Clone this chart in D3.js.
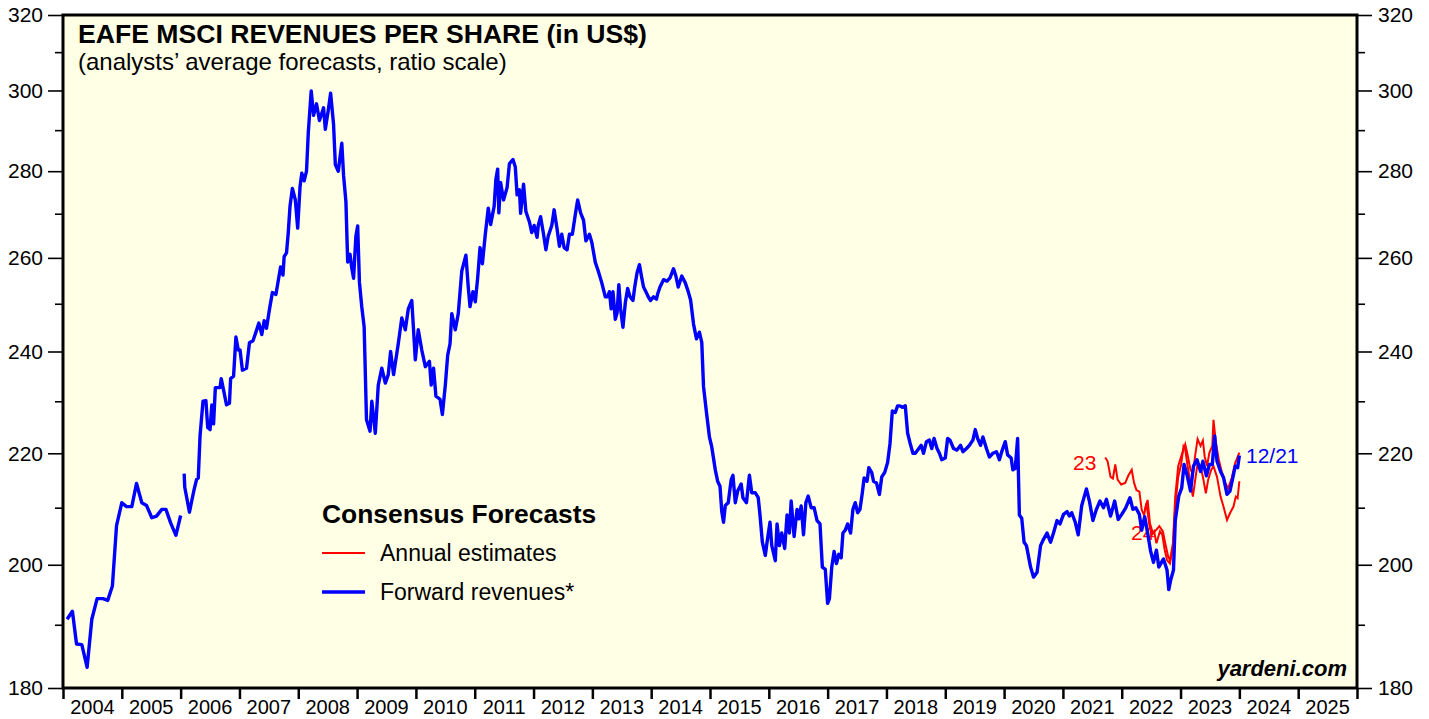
<!DOCTYPE html>
<html>
<head>
<meta charset="utf-8">
<script src="https://cdn.jsdelivr.net/npm/d3@7"></script>
<style>
body { margin: 0; background: #fff; }
svg text { font-family: "Liberation Sans", Arial, sans-serif; }
</style>
</head>
<body>
<svg></svg>
<script>
// Data (decimal year, revenues per share in US$)
const fwdMonthly = [
    [2004.07, 190.9], [2004.16, 192.2], [2004.23, 186.9], [2004.32, 186.8], [2004.41, 183.2],
    [2004.49, 190.9], [2004.58, 194.3], [2004.68, 194.3], [2004.76, 194.0], [2004.84, 196.4],
    [2004.91, 206.8], [2005.00, 210.9], [2005.08, 210.2], [2005.17, 210.2], [2005.25, 214.4],
    [2005.34, 210.9], [2005.42, 210.4], [2005.51, 208.2], [2005.59, 208.5], [2005.68, 209.7],
    [2005.75, 209.7], [2005.83, 207.3], [2005.92, 205.1], [2006.00, 208.6]
]

const fwdWeekly = [
    [2006.06, 216.2], [2006.07, 213.7], [2006.15, 209.2], [2006.19, 211.3], [2006.23, 213.3],
    [2006.27, 215.1], [2006.30, 215.4], [2006.33, 223.3], [2006.38, 230.0], [2006.43, 230.1],
    [2006.46, 224.9], [2006.50, 224.5], [2006.53, 229.3], [2006.56, 225.6], [2006.59, 232.7],
    [2006.67, 232.7], [2006.69, 234.5], [2006.73, 232.2], [2006.78, 229.3], [2006.83, 229.6],
    [2006.85, 234.5], [2006.90, 235.0], [2006.94, 243.0], [2006.98, 240.3], [2007.01, 240.3],
    [2007.05, 236.2], [2007.12, 236.6], [2007.17, 241.8], [2007.23, 242.2], [2007.28, 244.0],
    [2007.33, 245.9], [2007.38, 243.5], [2007.42, 246.4], [2007.46, 244.8], [2007.51, 248.8],
    [2007.56, 252.4], [2007.62, 252.0], [2007.66, 255.0], [2007.70, 258.0], [2007.74, 256.2],
    [2007.76, 260.3], [2007.80, 261.1], [2007.83, 265.7], [2007.86, 271.8], [2007.90, 275.9],
    [2007.95, 273.2], [2007.99, 266.7], [2008.03, 276.3], [2008.06, 279.5], [2008.10, 277.7],
    [2008.14, 280.0], [2008.17, 289.3], [2008.22, 299.9], [2008.26, 293.7], [2008.31, 296.6],
    [2008.36, 292.4], [2008.43, 295.6], [2008.46, 290.2], [2008.51, 295.0], [2008.55, 299.3],
    [2008.60, 291.4], [2008.63, 281.6], [2008.68, 280.0], [2008.74, 286.8], [2008.77, 279.0],
    [2008.81, 272.8], [2008.84, 259.1], [2008.88, 260.8], [2008.91, 257.7], [2008.94, 255.5],
    [2008.98, 264.9], [2009.01, 267.2], [2009.04, 254.6], [2009.08, 249.3], [2009.12, 245.1],
    [2009.16, 226.4], [2009.22, 224.2], [2009.25, 230.0], [2009.31, 223.8], [2009.36, 233.2],
    [2009.42, 236.6], [2009.48, 233.6], [2009.53, 235.3], [2009.57, 240.0], [2009.62, 235.3],
    [2009.70, 241.6], [2009.76, 247.0], [2009.82, 244.5], [2009.87, 248.9], [2009.93, 250.7],
    [2009.99, 238.3], [2010.04, 244.5], [2010.10, 240.3], [2010.16, 236.9], [2010.23, 238.0],
    [2010.26, 233.2], [2010.30, 236.6], [2010.34, 231.0], [2010.41, 230.4], [2010.45, 227.4],
    [2010.50, 233.2], [2010.54, 239.2], [2010.58, 241.6], [2010.61, 247.9], [2010.67, 244.5],
    [2010.72, 247.9], [2010.78, 257.1], [2010.85, 260.6], [2010.89, 253.6], [2010.92, 249.4],
    [2010.97, 252.6], [2011.01, 250.4], [2011.05, 255.6], [2011.09, 262.3], [2011.13, 258.7],
    [2011.18, 265.3], [2011.23, 271.3], [2011.27, 267.5], [2011.33, 271.7], [2011.36, 278.1],
    [2011.39, 280.5], [2011.41, 270.2], [2011.44, 277.3], [2011.49, 273.2], [2011.55, 276.1],
    [2011.59, 281.8], [2011.65, 282.8], [2011.69, 281.0], [2011.72, 274.4], [2011.76, 275.6],
    [2011.78, 270.1], [2011.83, 276.9], [2011.87, 270.5], [2011.93, 268.1], [2011.97, 265.7],
    [2012.01, 267.3], [2012.06, 264.6], [2012.08, 267.3], [2012.12, 269.3], [2012.17, 265.3],
    [2012.21, 261.8], [2012.25, 264.9], [2012.31, 267.3], [2012.35, 270.9], [2012.40, 266.5],
    [2012.44, 262.6], [2012.48, 265.3], [2012.52, 262.3], [2012.57, 261.8], [2012.61, 265.3],
    [2012.66, 265.3], [2012.71, 269.8], [2012.75, 273.2], [2012.80, 270.2], [2012.85, 268.5],
    [2012.89, 263.8], [2012.95, 265.3], [2012.99, 263.5], [2013.05, 259.0], [2013.10, 257.1],
    [2013.16, 254.5], [2013.22, 251.5], [2013.26, 251.5], [2013.29, 252.6], [2013.32, 248.9],
    [2013.35, 252.6], [2013.39, 246.7], [2013.42, 248.0], [2013.45, 254.1], [2013.48, 248.9],
    [2013.52, 245.0], [2013.56, 250.2], [2013.60, 253.3], [2013.64, 251.5], [2013.69, 250.7],
    [2013.72, 253.6], [2013.76, 256.7], [2013.80, 258.5], [2013.84, 255.6], [2013.87, 253.6],
    [2013.91, 252.6], [2013.95, 251.5], [2013.99, 250.7], [2014.04, 251.5], [2014.09, 251.0],
    [2014.11, 252.1], [2014.15, 253.6], [2014.21, 255.2], [2014.27, 254.9], [2014.32, 255.6],
    [2014.38, 257.6], [2014.42, 256.0], [2014.46, 253.6], [2014.52, 256.0], [2014.58, 254.5],
    [2014.63, 252.6], [2014.67, 250.8], [2014.72, 245.7], [2014.77, 242.6], [2014.82, 244.0],
    [2014.86, 241.9], [2014.89, 232.9], [2014.94, 227.8], [2014.99, 223.1], [2015.03, 221.2],
    [2015.09, 216.9], [2015.13, 214.8], [2015.17, 213.9], [2015.20, 209.3], [2015.23, 207.4],
    [2015.26, 210.4], [2015.31, 210.9], [2015.36, 215.1], [2015.39, 215.9], [2015.43, 210.9],
    [2015.47, 213.0], [2015.53, 214.3], [2015.56, 211.8], [2015.62, 210.9], [2015.67, 215.9],
    [2015.71, 212.7], [2015.77, 212.7], [2015.82, 211.8], [2015.85, 208.7], [2015.89, 203.9],
    [2015.94, 201.6], [2015.97, 203.9], [2016.02, 207.4], [2016.05, 203.3], [2016.11, 200.7],
    [2016.14, 207.1], [2016.18, 203.3], [2016.22, 205.5], [2016.27, 202.8], [2016.31, 208.7],
    [2016.35, 205.5], [2016.38, 211.2], [2016.43, 204.9], [2016.48, 209.7], [2016.51, 208.0],
    [2016.55, 210.3], [2016.59, 205.2], [2016.63, 210.9], [2016.67, 212.1], [2016.72, 210.0],
    [2016.77, 210.0], [2016.82, 207.7], [2016.87, 207.1], [2016.91, 199.6], [2016.96, 199.2],
    [2017.00, 193.5], [2017.03, 194.3], [2017.07, 199.6], [2017.11, 202.3], [2017.15, 200.2],
    [2017.19, 201.8], [2017.23, 201.2], [2017.26, 205.5], [2017.30, 206.0], [2017.34, 207.1],
    [2017.39, 205.5], [2017.43, 209.7], [2017.47, 210.9], [2017.51, 209.1], [2017.55, 209.7],
    [2017.59, 212.7], [2017.62, 215.4], [2017.67, 214.8], [2017.70, 217.3], [2017.75, 216.4],
    [2017.78, 214.8], [2017.83, 214.5], [2017.88, 212.4], [2017.92, 215.6], [2017.97, 216.4],
    [2018.02, 218.3], [2018.06, 221.8], [2018.10, 228.1], [2018.15, 227.8], [2018.19, 229.1],
    [2018.23, 229.1], [2018.27, 228.8], [2018.32, 229.1], [2018.36, 223.8], [2018.40, 222.0],
    [2018.45, 220.0], [2018.49, 220.0], [2018.55, 220.9], [2018.59, 221.5], [2018.63, 220.0],
    [2018.68, 222.2], [2018.73, 222.5], [2018.77, 220.9], [2018.81, 222.8], [2018.86, 220.9],
    [2018.90, 220.0], [2018.94, 218.8], [2019.00, 219.1], [2019.04, 222.8], [2019.08, 222.5],
    [2019.14, 220.9], [2019.20, 220.6], [2019.26, 221.5], [2019.30, 220.3], [2019.36, 220.9],
    [2019.41, 221.5], [2019.47, 222.5], [2019.51, 224.5], [2019.55, 222.8], [2019.60, 221.5],
    [2019.64, 223.1], [2019.70, 220.9], [2019.75, 219.3], [2019.81, 220.0], [2019.87, 220.3],
    [2019.92, 218.8], [2019.96, 220.3], [2020.02, 222.2], [2020.06, 219.7], [2020.12, 219.1],
    [2020.15, 216.9], [2020.19, 217.2], [2020.23, 222.8], [2020.26, 208.7], [2020.30, 208.1],
    [2020.34, 203.9], [2020.38, 203.3], [2020.45, 199.6], [2020.50, 197.9], [2020.56, 198.7],
    [2020.62, 203.3], [2020.67, 204.4], [2020.73, 205.5], [2020.79, 203.9], [2020.84, 205.5],
    [2020.90, 207.7], [2020.95, 207.1], [2021.01, 208.8], [2021.07, 209.3], [2021.11, 208.5],
    [2021.15, 209.1], [2021.21, 207.4], [2021.26, 205.2], [2021.32, 210.4], [2021.40, 213.4],
    [2021.45, 211.2], [2021.51, 207.7], [2021.57, 209.7], [2021.63, 211.2], [2021.69, 210.0],
    [2021.74, 211.5], [2021.81, 208.5], [2021.88, 211.2], [2021.94, 207.9], [2022.00, 208.8],
    [2022.07, 210.0], [2022.14, 211.8], [2022.19, 209.7], [2022.24, 210.0], [2022.30, 208.8],
    [2022.34, 206.0], [2022.39, 208.4], [2022.44, 205.5], [2022.49, 202.4], [2022.54, 200.4],
    [2022.59, 202.5], [2022.63, 199.6], [2022.71, 201.0], [2022.77, 199.1], [2022.80, 195.8],
    [2022.83, 197.3], [2022.88, 199.1], [2022.91, 207.7], [2022.97, 212.1], [2023.02, 213.6],
    [2023.06, 217.9], [2023.11, 216.0], [2023.17, 213.0], [2023.22, 217.6], [2023.28, 218.8],
    [2023.34, 216.6], [2023.38, 218.5], [2023.44, 215.8], [2023.49, 217.9], [2023.54, 217.9],
    [2023.58, 223.3], [2023.62, 218.5], [2023.68, 216.6], [2023.73, 215.5], [2023.79, 212.4],
    [2023.84, 213.0], [2023.89, 215.5], [2023.93, 217.6], [2023.97, 217.3], [2024.00, 219.6]
]

const est2023 = [
    [2021.72, 219.2], [2021.76, 218.5], [2021.81, 215.6], [2021.85, 215.3], [2021.89, 217.9],
    [2021.93, 215.1], [2021.99, 214.2], [2022.06, 214.5], [2022.11, 215.8], [2022.17, 216.9],
    [2022.21, 214.5], [2022.25, 213.2], [2022.30, 212.9], [2022.34, 209.6], [2022.38, 208.7],
    [2022.42, 210.8], [2022.47, 206.9], [2022.51, 205.2], [2022.55, 205.8], [2022.59, 203.7],
    [2022.65, 205.8], [2022.69, 205.2], [2022.73, 202.6], [2022.77, 200.8], [2022.82, 200.2],
    [2022.87, 202.9], [2022.91, 210.2], [2022.96, 215.6], [2023.01, 217.9], [2023.05, 221.3],
    [2023.08, 220.7], [2023.12, 217.6], [2023.17, 214.5], [2023.21, 212.0], [2023.25, 215.1],
    [2023.29, 218.2], [2023.34, 217.6], [2023.38, 215.6], [2023.43, 212.6], [2023.47, 215.1],
    [2023.52, 216.9], [2023.56, 217.6], [2023.62, 215.6], [2023.68, 212.0], [2023.73, 210.2],
    [2023.79, 207.8], [2023.84, 209.0], [2023.90, 210.2], [2023.94, 212.0], [2023.97, 211.7],
    [2024.00, 214.8]
]

const est2024 = [
    [2022.39, 209.6], [2022.44, 211.4], [2022.48, 207.2], [2022.53, 205.4], [2022.59, 206.1],
    [2022.64, 206.7], [2022.70, 205.8], [2022.74, 203.7], [2022.79, 201.4], [2022.82, 200.8],
    [2022.87, 203.7], [2022.91, 212.0], [2022.96, 217.6], [2023.01, 219.4], [2023.05, 220.7],
    [2023.08, 221.7], [2023.12, 219.7], [2023.17, 216.9], [2023.21, 216.3], [2023.25, 219.7],
    [2023.29, 222.7], [2023.34, 221.4], [2023.38, 222.4], [2023.41, 219.4], [2023.45, 217.6],
    [2023.49, 220.1], [2023.54, 221.4], [2023.56, 226.4], [2023.60, 222.1], [2023.65, 218.8],
    [2023.70, 216.6], [2023.76, 214.5], [2023.81, 213.5], [2023.87, 215.4], [2023.93, 218.2],
    [2024.00, 220.1]
]

const years = d3.range(2004, 2026)
const yMajor = [180, 200, 220, 240, 260, 280, 300, 320]
const yMinor = [190, 210, 230, 250, 270, 290, 310]

const width = 1429
const height = 719
const margin = { top: 15, right: 72, bottom: 31, left: 63 }
const innerWidth = width - margin.left - margin.right
const innerHeight = height - margin.top - margin.bottom

const svg = d3.select("svg")
    .attr("width", width)
    .attr("height", height)

const serif = '"Liberation Serif", "Times New Roman", serif'

// Scales
const xScale = d3.scaleLinear().domain([2004, 2026]).range([0, innerWidth])
const yScale = d3.scaleLog().domain([180, 320]).range([innerHeight, 0])

const g = svg.append("g")
    .attr("transform", `translate(${margin.left}, ${margin.top})`)

g.append("rect")
    .attr("width", innerWidth)
    .attr("height", innerHeight)
    .attr("fill", "#FFFFE5")

// Y axes (left + right, major + minor)
const styleAxis = sel => {
    sel.select(".domain").remove()
    sel.selectAll(".tick line").attr("stroke", "#000").attr("stroke-width", 1.6)
    sel.selectAll(".tick text")
        .attr("font-family", serif)
        .attr("font-size", "21px")
        .attr("fill", "#000")
}

g.append("g")
    .call(d3.axisLeft(yScale).tickValues(yMajor).tickSize(15).tickPadding(5).tickFormat(d3.format("d")))
    .call(styleAxis)
g.append("g")
    .call(d3.axisLeft(yScale).tickValues(yMinor).tickSize(8).tickFormat(""))
    .call(styleAxis)
g.append("g")
    .attr("transform", `translate(${innerWidth}, 0)`)
    .call(d3.axisRight(yScale).tickValues(yMajor).tickSize(15).tickPadding(6).tickFormat(d3.format("d")))
    .call(styleAxis)
g.append("g")
    .attr("transform", `translate(${innerWidth}, 0)`)
    .call(d3.axisRight(yScale).tickValues(yMinor).tickSize(8).tickFormat(""))
    .call(styleAxis)

// X axis: ticks at year boundaries, labels centered in between
const xAxisG = g.append("g")
    .attr("transform", `translate(0, ${innerHeight})`)
    .call(d3.axisBottom(xScale).tickValues(d3.range(2004, 2027)).tickSize(11).tickFormat(""))
xAxisG.select(".domain").remove()
xAxisG.selectAll(".tick line").attr("stroke", "#000").attr("stroke-width", 2.5)

xAxisG.selectAll(".year").data(years)
    .enter()
    .append("text")
    .attr("class", "year")
    .attr("x", d => xScale(d + 0.5))
    .attr("y", 26)
    .attr("text-anchor", "middle")
    .attr("font-family", serif)
    .attr("font-size", "20px")
    .attr("fill", "#000")
    .text(d => d)

// Label hidden partly under the lines
g.append("text")
    .attr("x", 1131 - margin.left)
    .attr("y", 540 - margin.top)
    .attr("font-size", "21px")
    .attr("fill", "#ff0000")
    .text("24")

// Lines
const line = d3.line()
    .x(d => xScale(d[0]))
    .y(d => yScale(d[1]))

g.append("path").datum(est2023)
    .attr("d", line).attr("fill", "none").attr("stroke", "#ff0000").attr("stroke-width", 2)
g.append("path").datum(est2024)
    .attr("d", line).attr("fill", "none").attr("stroke", "#ff0000").attr("stroke-width", 2)

;[fwdMonthly, fwdWeekly].forEach(series => {
    g.append("path").datum(series)
        .attr("d", line)
        .attr("fill", "none")
        .attr("stroke", "#0000ff")
        .attr("stroke-width", 3.4)
        .attr("stroke-linejoin", "round")
})

// Frame
g.append("rect")
    .attr("width", innerWidth)
    .attr("height", innerHeight)
    .attr("fill", "none")
    .attr("stroke", "#000")
    .attr("stroke-width", 3)

// Titles
g.append("text")
    .attr("x", 15).attr("y", 28)
    .attr("font-size", "26.6px").attr("font-weight", "bold")
    .text("EAFE MSCI REVENUES PER SHARE (in US$)")
g.append("text")
    .attr("x", 15).attr("y", 55)
    .attr("font-size", "24px")
    .text("(analysts’ average forecasts, ratio scale)")

// Line labels
g.append("text")
    .attr("x", 1073 - margin.left).attr("y", 470 - margin.top)
    .attr("font-size", "21px").attr("fill", "#ff0000")
    .text("23")
g.append("text")
    .attr("x", 1246 - margin.left).attr("y", 463 - margin.top)
    .attr("font-size", "21px").attr("fill", "#0000ff")
    .text("12/21")

// Legend
const legend = g.append("g").attr("transform", `translate(${322 - margin.left}, ${523 - margin.top})`)
legend.append("text")
    .attr("font-size", "26.4px").attr("font-weight", "bold")
    .text("Consensus Forecasts")
const items = [
    { label: "Annual estimates", color: "#ff0000", w: 2 },
    { label: "Forward revenues*", color: "#0000ff", w: 3.4 }
]
items.forEach((it, i) => {
    const yy = 30 + i * 39
    legend.append("line")
        .attr("x1", 0).attr("x2", 43)
        .attr("y1", yy).attr("y2", yy)
        .attr("stroke", it.color).attr("stroke-width", it.w)
    legend.append("text")
        .attr("x", 58).attr("y", yy + 8)
        .attr("font-size", "23px")
        .text(it.label)
})

g.append("text")
    .attr("x", 1347 - margin.left).attr("y", 676 - margin.top)
    .attr("text-anchor", "end")
    .attr("font-family", serif)
    .attr("font-size", "22px")
    .attr("font-weight", "bold")
    .attr("font-style", "italic")
    .text("yardeni.com")
</script>
</body>
</html>
